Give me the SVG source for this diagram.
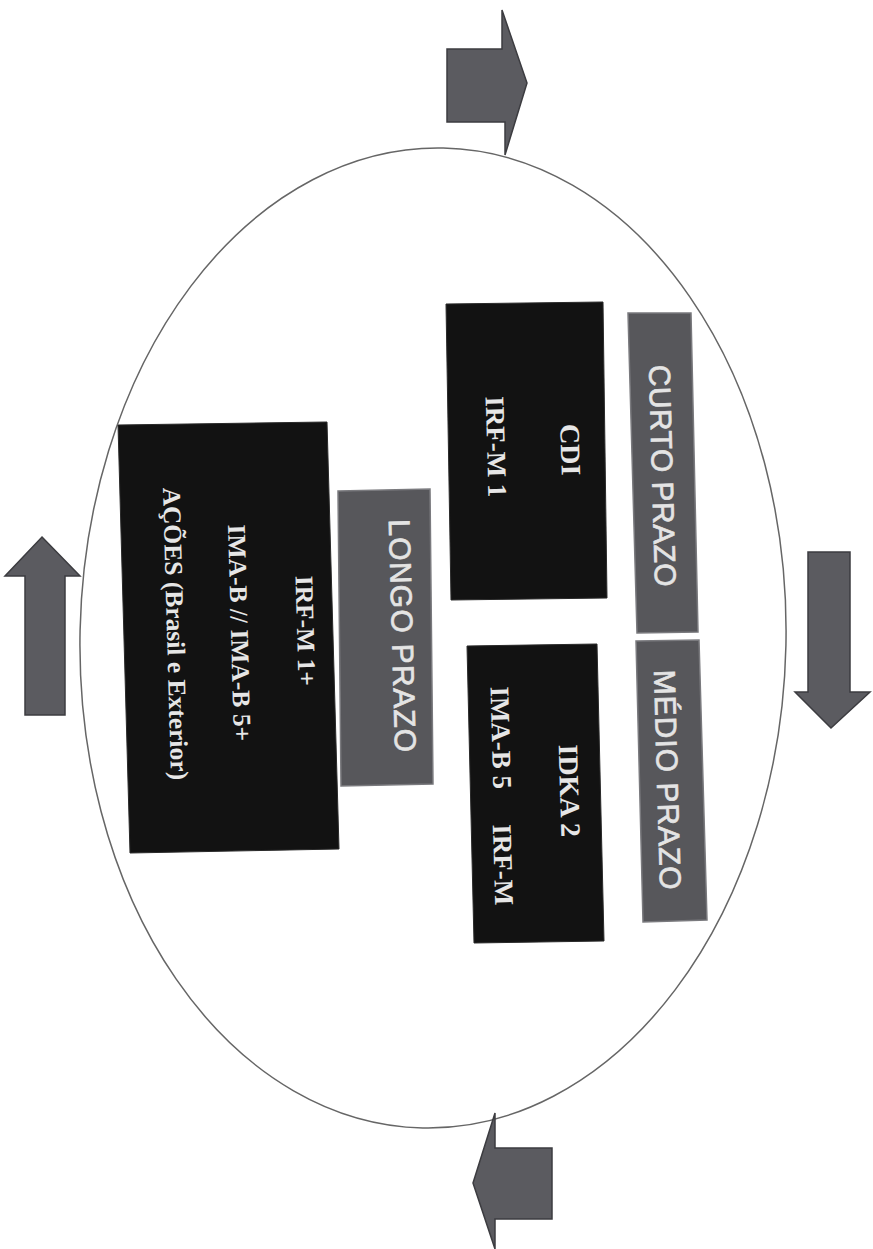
<svg xmlns="http://www.w3.org/2000/svg" width="873" height="1249" viewBox="0 0 873 1249">
<style>
.blk{fill:#121212;stroke:#2a2a2a;stroke-width:1}
.gry{fill:#57575b;stroke:#7a7a7e;stroke-width:1.5}
.arr{fill:#5b5b60;stroke:#3c3c40;stroke-width:1.5;stroke-linejoin:miter}
.ser{font-family:"Liberation Serif","DejaVu Serif",serif;font-weight:bold;fill:#e6e6e6;text-anchor:middle}
.san{font-family:"Liberation Sans",Arial,sans-serif;fill:#e4e4e4;stroke:#e4e4e4;stroke-width:0.7;text-anchor:middle}
</style>
<rect width="873" height="1249" fill="#ffffff"/>
<ellipse cx="433" cy="638" rx="353" ry="490" fill="none" stroke="#666" stroke-width="1.5" transform="rotate(1.2 433 638)"/>
<g id="arrows">
<polygon class="arr" points="447,49 502,49 502,10 527,83 505,155 505,122 447,122"/>
<polygon class="arr" points="42,537 80,576 65,576 65,715 25,715 25,576 5,576"/>
<polygon class="arr" points="808,552 850,552 850,692 870,692 831,728 795,692 808,692"/>
<polygon class="arr" points="552,1148 552,1219 495,1219 495,1249 473,1183 495,1113 495,1148"/>
</g>
<g id="longo-ativos">
<polygon class="blk" points="118,425 327,422 339,849 130,853"/>
<text class="ser" font-size="25.5" transform="translate(297,631) rotate(88.4)">IRF-M 1+</text>
<text class="ser" font-size="25.5" transform="translate(231,633) rotate(88.4)">IMA-B // IMA-B 5+</text>
<text class="ser" font-size="25.5" transform="translate(167,634) rotate(88.4)">AÇÕES (Brasil e Exterior)</text>
</g>
<g id="longo-prazo">
<polygon class="gry" points="338,491 430,489 433,784 341,786"/>
<text class="san" font-size="30" textLength="233" transform="translate(392,636) rotate(88.4)">LONGO PRAZO</text>
</g>
<g id="curto-ativos">
<polygon class="blk" points="446,304 603,302 607,598 451,600"/>
<text class="ser" font-size="28" transform="translate(561,450) rotate(88.4)">CDI</text>
<text class="ser" font-size="27" transform="translate(487,447) rotate(88.4)">IRF-M 1</text>
</g>
<g id="curto-prazo">
<polygon class="gry" points="628,313 691,313 698,632 637,633"/>
<text class="san" font-size="30" textLength="222" transform="translate(652,476) rotate(88.4)">CURTO PRAZO</text>
</g>
<g id="medio-ativos">
<polygon class="blk" points="467,646 597,644 604,941 474,943"/>
<text class="ser" font-size="28" transform="translate(560,791) rotate(88.4)">IDKA 2</text>
<text class="ser" font-size="27" transform="translate(492,738) rotate(88.4)">IMA-B 5</text>
<text class="ser" font-size="27" transform="translate(494,865) rotate(88.4)">IRF-M</text>
</g>
<g id="medio-prazo">
<polygon class="gry" points="636,641 699,640 707,920 643,922"/>
<text class="san" font-size="30" textLength="220" transform="translate(657,780) rotate(88.4)">MÉDIO PRAZO</text>
</g>
</svg>
